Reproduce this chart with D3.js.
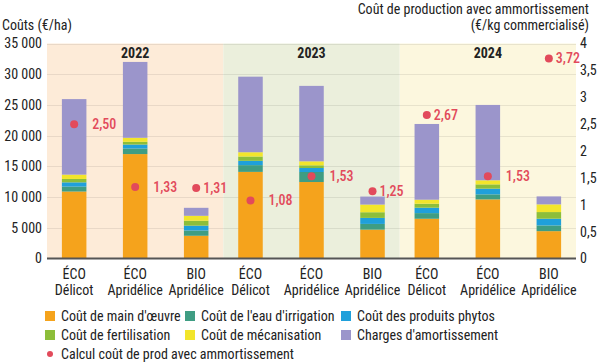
<!DOCTYPE html>
<html><head><meta charset="utf-8">
<script src="https://cdn.jsdelivr.net/npm/d3@7"></script>
<style>
html,body{margin:0;padding:0;background:#fff;}
svg text{font-family:"Roboto Condensed","Liberation Sans Narrow","DejaVu Sans Condensed",Roboto,sans-serif;}
</style></head>
<body><svg id="chart" width="600" height="362"></svg>
<script>
// ---- data ----
const years = ["2022", "2023", "2024"];
const labelLine1 = ["ÉCO", "ÉCO", "BIO", "ÉCO", "ÉCO", "BIO", "ÉCO", "ÉCO", "BIO"];
const labelLine2 = ["Délicot", "Apridélice", "Apridélice", "Délicot", "Apridélice", "Apridélice", "Délicot", "Apridélice", "Apridélice"];
const mainOeuvre    = [10900, 17000, 3700, 14100, 12450, 4700, 6470, 9620, 4450];
const eauIrrigation = [800, 900, 850, 1100, 1630, 930, 920, 820, 930];
const produitsPhytos= [700, 650, 800, 700, 650, 980, 880, 930, 1100];
const fertilisation = [550, 450, 800, 700, 440, 920, 650, 700, 1080];
const mecanisation  = [700, 650, 800, 700, 650, 1250, 650, 660, 1250];
const amortissement = [12300, 12350, 1300, 12300, 12280, 1300, 12330, 12270, 1300];
const coutProd      = [2.50, 1.33, 1.31, 1.08, 1.53, 1.25, 2.67, 1.53, 3.72];
const seriesNames = ["Coût de main d'œuvre", "Coût de l'eau d'irrigation", "Coût des produits phytos",
                     "Coût de fertilisation", "Coût de mécanisation", "Charges d'amortissement"];
const dotLegend = "Calcul coût de prod avec ammortissement";
const leftTicks = [0, 5000, 10000, 15000, 20000, 25000, 30000, 35000];
const rightTicks = [0, 0.5, 1, 1.5, 2, 2.5, 3, 3.5, 4];

// ---- styles ----
const colors = ["#f5a31c", "#3f9d83", "#1fa0db", "#8dbe3a", "#f2e52b", "#9b95cb"];
const yearBg = ["#fdebd8", "#ebefdc", "#fcf7de"];
const dotColor = "#e24a5b";

const svg = d3.select("#chart");
const X0 = 47, X1 = 576, Y0 = 258.5, Y1 = 43.5;

const loc = d3.formatLocale({decimal: ",", thousands: " ", grouping: [3], currency: ["", "€"]});
const fmtLeft = loc.format(",d");
const fmtRight = v => loc.format("~g")(v);
const fmtVal = loc.format(".2f");

const n = mainOeuvre.length;
const rows = d3.range(n).map(i => ({
  i, year: years[Math.floor(i / 3)], sub: i % 3,
  s0: mainOeuvre[i], s1: eauIrrigation[i], s2: produitsPhytos[i],
  s3: fertilisation[i], s4: mecanisation[i], s5: amortissement[i]
}));
const keys = ["s0", "s1", "s2", "s3", "s4", "s5"];
const stacked = d3.stack().keys(keys)(rows);

const xYear = d3.scaleBand().domain(years).range([X0, X1]).padding(0);
const xSub = d3.scaleBand().domain([0, 1, 2]).range([0, xYear.bandwidth()])
  .paddingInner(0.598).paddingOuter(0.244);
const y = d3.scaleLinear().domain([0, 35000]).range([Y0, Y1]);
const y2 = d3.scaleLinear().domain([0, 4]).range([Y0, Y1]);
const cx = d => xYear(d.year) + xSub(d.sub) + xSub.bandwidth() / 2;

// backgrounds
svg.append("g").selectAll("rect").data(years).join("rect")
  .attr("x", d => xYear(d)).attr("y", Y1)
  .attr("width", xYear.bandwidth()).attr("height", Y0 - Y1)
  .attr("fill", (d, i) => yearBg[i]);

// gridlines
svg.append("g").selectAll("line").data(leftTicks.filter(t => t > 0)).join("line")
  .attr("x1", X0).attr("x2", X1)
  .attr("y1", d => Math.round(y(d)) + 0.5).attr("y2", d => Math.round(y(d)) + 0.5)
  .attr("stroke", "rgba(0,0,0,0.08)").attr("stroke-width", 1);

// year labels
svg.append("g").selectAll("text").data(years).join("text")
  .attr("x", d => xYear(d) + xYear.bandwidth() / 2).attr("y", 58)
  .attr("text-anchor", "middle").attr("font-size", 14).attr("font-weight", "bold")
  .attr("fill", "#222").text(d => d);

// bars
svg.append("g").selectAll("g").data(stacked).join("g")
  .attr("fill", (d, i) => colors[i])
  .selectAll("rect").data(d => d).join("rect")
  .attr("x", d => xYear(d.data.year) + xSub(d.data.sub))
  .attr("width", xSub.bandwidth())
  .attr("y", d => y(d[1])).attr("height", d => y(d[0]) - y(d[1]));

// left axis
const axL = svg.append("g").attr("transform", `translate(${X0 - 5},0)`)
  .call(d3.axisLeft(y).tickValues(leftTicks).tickFormat(fmtLeft).tickSize(0).tickPadding(0));
axL.select(".domain").remove();
axL.selectAll("text").attr("font-size", 14).attr("fill", "#222");

// right axis
const axR = svg.append("g").attr("transform", `translate(${X1 + 4},0)`)
  .call(d3.axisRight(y2).tickValues(rightTicks).tickFormat(fmtRight).tickSize(0).tickPadding(0));
axR.select(".domain").remove();
axR.selectAll("text").attr("font-size", 14).attr("fill", "#222");

// bottom axis
const xCat = d3.scaleOrdinal().domain(d3.range(n)).range(rows.map(cx));
const axB = svg.append("g").attr("transform", `translate(0,${Y0})`);
axB.append("line").attr("x1", X0).attr("x2", X1).attr("y1", 0).attr("y2", 0)
  .attr("stroke", "#555").attr("stroke-width", 2);
const lab = axB.selectAll("text.cat").data(rows).join("text").attr("class", "cat")
  .attr("text-anchor", "middle").attr("font-size", 14).attr("fill", "#222");
lab.append("tspan").attr("x", d => xCat(d.i)).attr("y", 20.5).text(d => labelLine1[d.i]);
lab.append("tspan").attr("x", d => xCat(d.i)).attr("y", 36.5).text(d => labelLine2[d.i]);

// dots + labels
const totals = rows.map(r => keys.reduce((s, k) => s + r[k], 0));
const dg = svg.append("g");
dg.selectAll("circle").data(rows).join("circle")
  .attr("cx", cx).attr("cy", d => y2(coutProd[d.i])).attr("r", 4).attr("fill", dotColor);
dg.selectAll("text").data(rows).join("text")
  .attr("x", d => cx(d) + (y2(coutProd[d.i]) < y(totals[d.i]) ? 7 : 18))
  .attr("y", d => y2(coutProd[d.i])).attr("dy", "0.35em")
  .attr("font-size", 14).attr("font-weight", 500).attr("fill", dotColor)
  .text(d => fmtVal(coutProd[d.i]));

// axis titles
svg.append("text").attr("x", 2).attr("y", 30).attr("font-size", 14).attr("fill", "#222").text("Coûts (€/ha)");
svg.append("text").attr("x", 589).attr("y", 14).attr("text-anchor", "end").attr("font-size", 14).attr("fill", "#222")
  .text("Coût de production avec ammortissement");
svg.append("text").attr("x", 589).attr("y", 30).attr("text-anchor", "end").attr("font-size", 14).attr("fill", "#222")
  .text("(€/kg commercialisé)");

// legend
const legCols = [45, 185, 341], legRows = [316, 335];
const lg = svg.append("g");
seriesNames.forEach((name, i) => {
  const lx = legCols[i % 3], ly = legRows[Math.floor(i / 3)];
  lg.append("rect").attr("x", lx).attr("y", ly - 5).attr("width", 10).attr("height", 10).attr("fill", colors[i]);
  lg.append("text").attr("x", lx + 16).attr("y", ly).attr("dy", "0.35em")
    .attr("font-size", 14).attr("fill", "#222").text(name);
});
lg.append("circle").attr("cx", 50).attr("cy", 354).attr("r", 3).attr("fill", dotColor);
lg.append("text").attr("x", 61).attr("y", 354).attr("dy", "0.35em")
  .attr("font-size", 14).attr("fill", "#222").text(dotLegend);
</script></body></html>
